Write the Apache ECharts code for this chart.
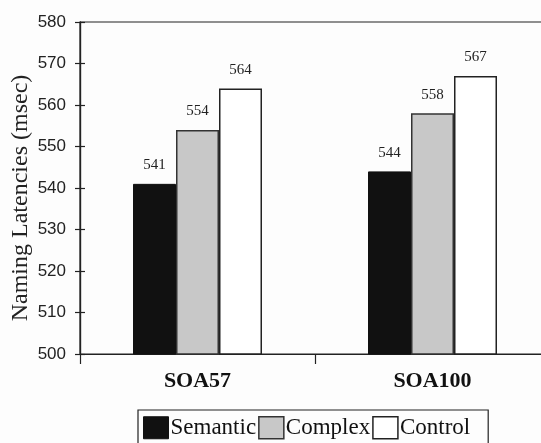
<!DOCTYPE html>
<html><head><meta charset="utf-8">
<script src="https://cdn.jsdelivr.net/npm/echarts@6/dist/echarts.min.js"></script>
<style>html,body{margin:0;padding:0;background:#fdfdfd}#c{width:541px;height:443px}</style>
</head><body><div id="c"></div>
<script>
const categories = ['SOA57', 'SOA100'];
const semantic = [541, 544];
const complex = [554, 558];
const control = [564, 567];
const yTicks = [500, 510, 520, 530, 540, 550, 560, 570, 580];

const chart = echarts.init(document.getElementById('c'));
const serif = 'Liberation Serif, Times New Roman, serif';
const lbl = {show: true, position: 'top', distance: 11, fontFamily: serif, fontSize: 15, color: '#222'};
const yBase = {
  type: 'value', min: yTicks[0], max: yTicks[yTicks.length - 1], interval: 10, position: 'left',
  axisLine: {show: true, lineStyle: {color: '#222', width: 1.2}},
  splitLine: {show: false}
};
chart.setOption({
  backgroundColor: '#fdfdfd',
  animation: false,
  grid: {left: 80, top: 22, height: 332, width: 470, outerBoundsMode: 'none', containLabel: false,
    show: true, borderColor: '#222', borderWidth: 1.2, backgroundColor: 'transparent'},
  legend: {
    left: 138, top: 410, orient: 'horizontal',
    itemWidth: 25, itemHeight: 22, itemGap: 2,
    borderColor: '#222', borderWidth: 1.2, padding: [6, 18, 8, 5],
    textStyle: {fontFamily: serif, fontSize: 23, color: '#111', padding: [0, 0, 0, -3]},
    data: [
      {name: 'Semantic', icon: 'rect', itemStyle: {color: '#111', borderColor: '#111', borderWidth: 1}},
      {name: 'Complex', icon: 'rect', itemStyle: {color: '#c8c8c8', borderColor: '#333', borderWidth: 1.5}},
      {name: 'Control', icon: 'rect', itemStyle: {color: '#fff', borderColor: '#222', borderWidth: 1.5}}
    ]
  },
  xAxis: {
    type: 'category', data: categories,
    axisLine: {show: true, lineStyle: {color: '#222', width: 1.2}},
    axisTick: {show: true, length: 10, inside: false, lineStyle: {color: '#222', width: 1.2}},
    axisLabel: {fontFamily: serif, fontWeight: 'bold', fontSize: 22, color: '#111', margin: 16}
  },
  yAxis: [
    Object.assign({}, yBase, {
      name: 'Naming Latencies (msec)', nameLocation: 'middle', nameGap: 47, nameMoveOverlap: false,
      nameTextStyle: {fontFamily: serif, fontSize: 24, color: '#222', padding: [0, 20, 0, 0]},
      axisTick: {show: true, length: 5, inside: false, lineStyle: {color: '#222', width: 1.2}},
      axisLabel: {fontFamily: 'Liberation Sans, Arial, sans-serif', fontSize: 17, color: '#222', margin: 14}
    }),
    Object.assign({}, yBase, {
      axisTick: {show: true, length: 5, inside: true, lineStyle: {color: '#222', width: 1.2}},
      axisLabel: {show: false}
    })
  ],
  series: [
    {name: 'Semantic', type: 'bar', data: semantic, barWidth: 43, barGap: '0%',
      itemStyle: {color: '#111', borderColor: '#111', borderWidth: 1}, label: lbl},
    {name: 'Complex', type: 'bar', data: complex, barWidth: 43, barGap: '0%',
      itemStyle: {color: '#c8c8c8', borderColor: '#333', borderWidth: 1.5}, label: lbl},
    {name: 'Control', type: 'bar', data: control, barWidth: 43, barGap: '0%',
      itemStyle: {color: '#fff', borderColor: '#222', borderWidth: 1.5}, label: lbl}
  ]
});
</script></body></html>
